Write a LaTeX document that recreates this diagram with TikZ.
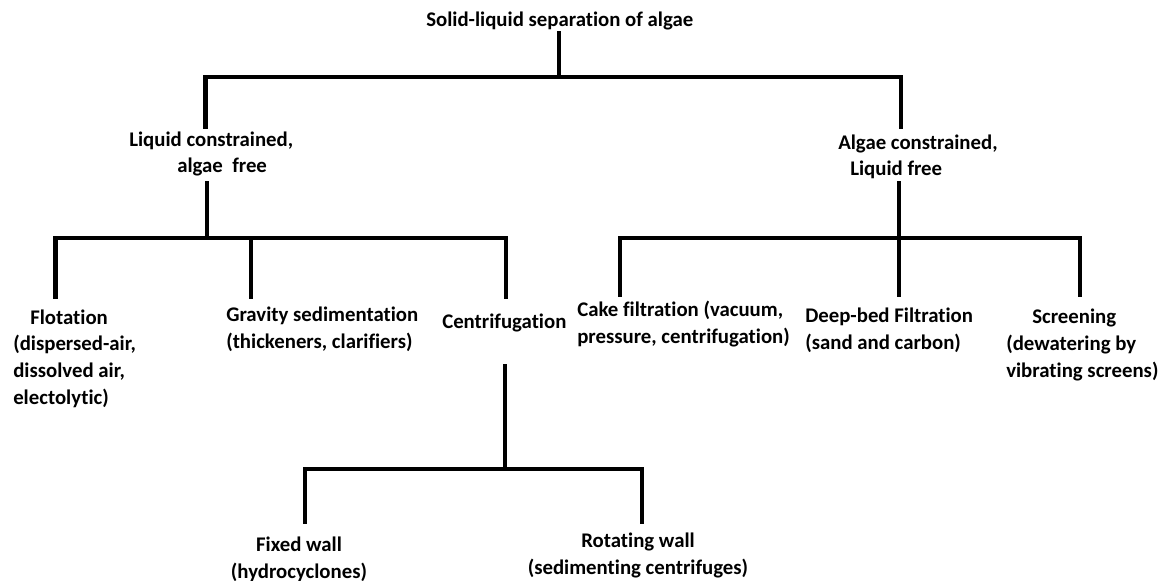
\documentclass[tikz,border=0pt]{standalone}
\usepackage{fontspec}
\setmainfont{Carlito}[Ligatures=NoCommon]
\begin{document}
\begin{tikzpicture}[x=0.75pt,y=-0.75pt,
  lbl/.style={inner sep=0pt, font=\bfseries\fontsize{15.6}{20}\selectfont, align=left, anchor=base west},
  clbl/.style={lbl, align=center, anchor=base},
  tree/.style={line width=3.2pt, line join=miter, line cap=rect}]
\useasboundingbox[fill=white] (0,0) rectangle (1164,581);

% labels (anchored at the baseline of their last line)
\node[lbl] (title) at (426,27) {Solid-liquid separation of algae};
\node[lbl] (lc) at (129,173) {Liquid constrained,\\\hspace*{36pt}algae\ \ free};
\node[lbl] (ac) at (838,176) {Algae constrained,\\\hspace*{9pt}Liquid free};
\node[lbl] (flot) at (13,404) {\hspace*{12.75pt}Flotation\\(dispersed-air,\\dissolved air,\\electolytic)};
\node[lbl] (grav) at (226,348) {Gravity sedimentation\\(thickeners, clarifiers)};
\node[lbl] (cent) at (442,328) {Centrifugation};
\node[lbl] (cake) at (577,343) {Cake filtration (vacuum,\\pressure, centrifugation)};
\node[lbl] (deep) at (805,349) {Deep-bed Filtration\\(sand and carbon)};
\node[lbl] (scr) at (1006,377) {\hspace*{19.5pt}Screening\\(dewatering by\\vibrating screens)};
\node[clbl] (fixed) at (299,578) {Fixed wall\\(hydrocyclones)};
\node[clbl] (rot) at (638,574) {Rotating wall\\(sedimenting centrifuges)};

% connector end points
\coordinate (t0) at (559,33);
\coordinate (t1) at (559,77);
\coordinate (lcT) at (205.5,127);
\coordinate (acT) at (901,127);
\coordinate (lcB) at (207,183);
\coordinate (lcJ) at (207,238);
\coordinate (flT) at (55.5,297);
\coordinate (grT) at (251,297);
\coordinate (ceT) at (506,297);
\coordinate (acB) at (899,183);
\coordinate (dpT) at (899,295);
\coordinate (ckT) at (620,295);
\coordinate (scT) at (1080,295);
\coordinate (ceB) at (505,366);
\coordinate (ceJ) at (505,469);
\coordinate (fxT) at (305,522);
\coordinate (rtT) at (642,522);

\draw[tree] (t0) -- (t1);
\draw[tree] (lcT) |- (t1) -| (acT);
\draw[tree] (lcB) -- (lcJ);
\draw[tree] (flT) |- (lcJ) -| (ceT);
\draw[tree] (grT) -- (grT |- lcJ);
\draw[tree] (acB) -- (dpT);
\draw[tree] (ckT) |- (acB |- lcJ) -| (scT);
\draw[tree] (ceB) -- (ceJ);
\draw[tree] (fxT) |- (ceJ) -| (rtT);
\end{tikzpicture}
\end{document}
